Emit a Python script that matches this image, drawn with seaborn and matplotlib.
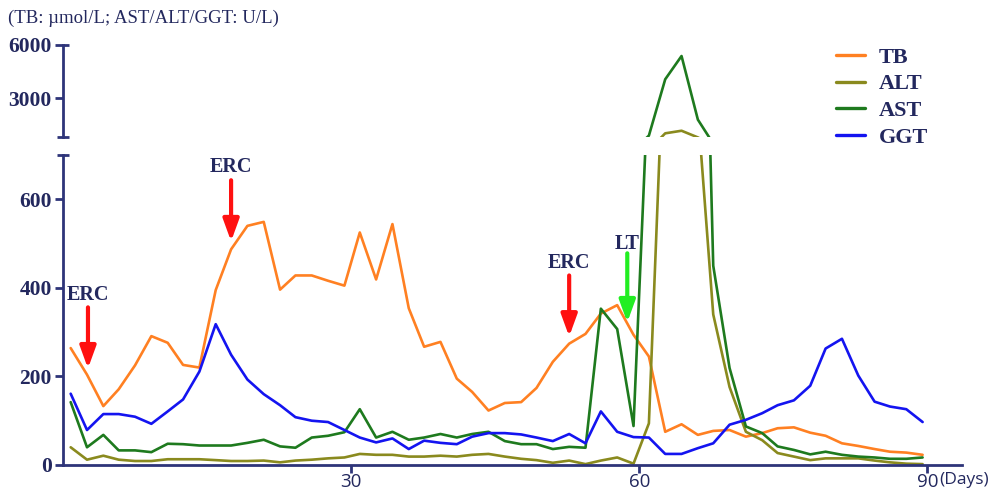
import matplotlib
matplotlib.use("Agg")
import matplotlib.pyplot as plt
import seaborn as sns
import pandas as pd

sns.set_theme(style="white")
plt.rcParams['font.family'] = ['Liberation Serif', 'DejaVu Serif']

# ---- data ----
days = [0.8, 2.5, 4.2, 5.8, 7.5, 9.2, 10.9, 12.5, 14.2, 15.9,
        17.5, 19.2, 20.9, 22.6, 24.2, 25.9, 27.6, 29.3, 30.9, 32.6,
        34.3, 36.0, 37.6, 39.3, 41.0, 42.6, 44.3, 46.0, 47.7, 49.3,
        51.0, 52.7, 54.4, 56.0, 57.7, 59.4, 61.0, 62.7, 64.4, 66.1,
        67.7, 69.4, 71.1, 72.8, 74.4, 76.1, 77.8, 79.4, 81.1, 82.8,
        84.5, 86.1, 87.8, 89.5]

tb = [264, 204, 133, 171, 225, 291, 276, 226, 220, 395,
      487, 540, 549, 396, 428, 428, 416, 405, 525, 419,
      544, 354, 267, 278, 195, 165, 123, 140, 142, 174,
      233, 274, 296, 342, 361, 294, 245, 75, 92, 68,
      77, 79, 64, 72, 83, 85, 73, 66, 49, 43,
      36, 30, 28, 23]

alt = [40, 12, 21, 12, 9, 9, 13, 13, 13, 11,
       9, 9, 10, 6, 10, 12, 15, 17, 25, 23,
       23, 19, 19, 21, 19, 23, 25, 19, 14, 11,
       5, 10, 2, 10, 17, 3, 94, 1030, 1175, 800,
       340, 176, 75, 56, 27, 19, 11, 15, 15, 15,
       10, 6, 3, 2]

ast = [142, 40, 68, 33, 33, 29, 48, 47, 44, 44,
       44, 50, 57, 42, 39, 62, 66, 74, 126, 62,
       75, 57, 62, 70, 62, 70, 75, 54, 47, 47,
       36, 41, 39, 353, 307, 88, 900, 4070, 5380, 1800,
       450, 219, 87, 72, 42, 34, 24, 30, 23, 19,
       17, 14, 14, 17]

ggt = [161, 79, 115, 115, 109, 93, 121, 148, 211, 318,
       249, 193, 160, 135, 108, 100, 97, 79, 62, 51,
       60, 36, 55, 50, 47, 64, 72, 72, 69, 62,
       54, 70, 49, 121, 75, 63, 62, 25, 25, 38,
       49, 91, 102, 117, 135, 146, 179, 263, 285, 202,
       143, 132, 126, 97]

series_names = ["TB", "ALT", "AST", "GGT"]
colors = {"TB": "#FF8022", "ALT": "#8A8A1E", "AST": "#1E7A1E", "GGT": "#1414F0"}

x_ticks = [30, 60, 90]
y_ticks_low = [0, 200, 400, 600]
y_ticks_high = [3000, 6000]

# annotations: (label, day, text_y, arrow_start_y, arrow_tip_y, color)
events = [("ERC", 2.6, 383, 356, 218, "#FF1010"),
          ("ERC", 17.5, 673, 643, 505, "#FF1010"),
          ("ERC", 52.7, 457, 428, 290, "#FF1010"),
          ("LT", 58.75, 500, 478, 322, "#22EE22")]

df = pd.DataFrame({"day": days, "TB": tb, "ALT": alt, "AST": ast, "GGT": ggt})
long = df.melt(id_vars="day", value_vars=series_names, var_name="marker", value_name="value")

navy = "#23285E"
axis_col = "#2E3479"
tick_fs = 15.5

fig = plt.figure(figsize=(9.93, 4.93), dpi=100)
L, R = 63 / 993, 962 / 993
ax_low = fig.add_axes([L, 28 / 493, R - L, 310 / 493])
ax_high = fig.add_axes([L, (493 - 136.7) / 493, R - L, 91.7 / 493])

for ax in (ax_low, ax_high):
    sns.lineplot(data=long, x="day", y="value", hue="marker", hue_order=series_names,
                 palette=colors, linewidth=1.9, ax=ax, legend=(ax is ax_high),
                 sort=False, estimator=None)
    ax.set_xlim(0, 93.6)
    for s in ("top", "right"):
        ax.spines[s].set_visible(False)
    ax.spines["left"].set_color(axis_col)
    ax.spines["left"].set_linewidth(2.0)
    ax.set_xlabel("")
    ax.set_ylabel("")
    ax.tick_params(axis="y", direction="out", length=6, width=2.0, color=axis_col,
                   labelsize=tick_fs, labelcolor=navy, pad=2, left=True)

ax_low.set_ylim(0, 700)
ax_low.set_yticks(y_ticks_low)
ax_low.set_yticklabels([str(v) for v in y_ticks_low], fontweight="bold",
                       fontsize=tick_fs, color=navy)
ax_low.spines["bottom"].set_color(axis_col)
ax_low.spines["bottom"].set_linewidth(2.0)
ax_low.set_xticks(x_ticks)
ax_low.set_xticklabels([str(v) for v in x_ticks], fontsize=13.5, color=navy,
                       family=["Open Sans", "DejaVu Sans"])
ax_low.tick_params(axis="x", direction="out", length=6, width=2.0, color=axis_col,
                   bottom=True, pad=0)
ax_low.text(91.2, -0.022, "(Days)", transform=ax_low.get_xaxis_transform(),
            fontsize=12.5, color=navy, family=["Open Sans", "DejaVu Sans"],
            ha="left", va="top")

ax_high.set_ylim(840, 6000)
ax_high.set_yticks(y_ticks_high)
ax_high.set_yticklabels([str(v) for v in y_ticks_high], fontweight="bold",
                        fontsize=tick_fs, color=navy)
ax_high.spines["bottom"].set_visible(False)
ax_high.set_xticks([])

# break caps on the y axis
cap = 0.007
ax_low.plot([-cap, cap], [1, 1], transform=ax_low.transAxes, color=axis_col,
            lw=2.0, clip_on=False, solid_capstyle="butt")
ax_high.plot([-cap, cap], [0, 0], transform=ax_high.transAxes, color=axis_col,
             lw=2.0, clip_on=False, solid_capstyle="butt")
ax_high.plot([0, cap], [1, 1], transform=ax_high.transAxes, color=axis_col,
             lw=2.0, clip_on=False, solid_capstyle="butt")

# legend
leg = ax_high.legend(loc="upper left", bbox_to_anchor=(0.822, 0.945),
                     bbox_transform=fig.transFigure, frameon=False,
                     handlelength=1.3, handletextpad=0.6, labelspacing=0.28,
                     prop={"family": "Liberation Serif", "weight": "bold", "size": 16})
for t in leg.get_texts():
    t.set_color(navy)
for h in leg.get_lines():
    h.set_linewidth(2.4)

# annotations
for label, d, ty, ys, yt, col in events:
    ax_low.annotate("", xy=(d, yt), xytext=(d, ys),
                    arrowprops=dict(arrowstyle="-|>,head_width=0.4,head_length=1.1",
                                    color=col, lw=3.0, shrinkA=0, shrinkB=0))
    ax_low.text(d, ty, label, ha="center", va="center", fontsize=14.5,
                fontweight="bold", color=navy)

fig.text(8 / 993, 1 - 18 / 493, "(TB: \u00b5mol/L; AST/ALT/GGT: U/L)",
         fontsize=13.5, color=navy, ha="left", va="center")

fig.savefig("out.png", dpi=100)
